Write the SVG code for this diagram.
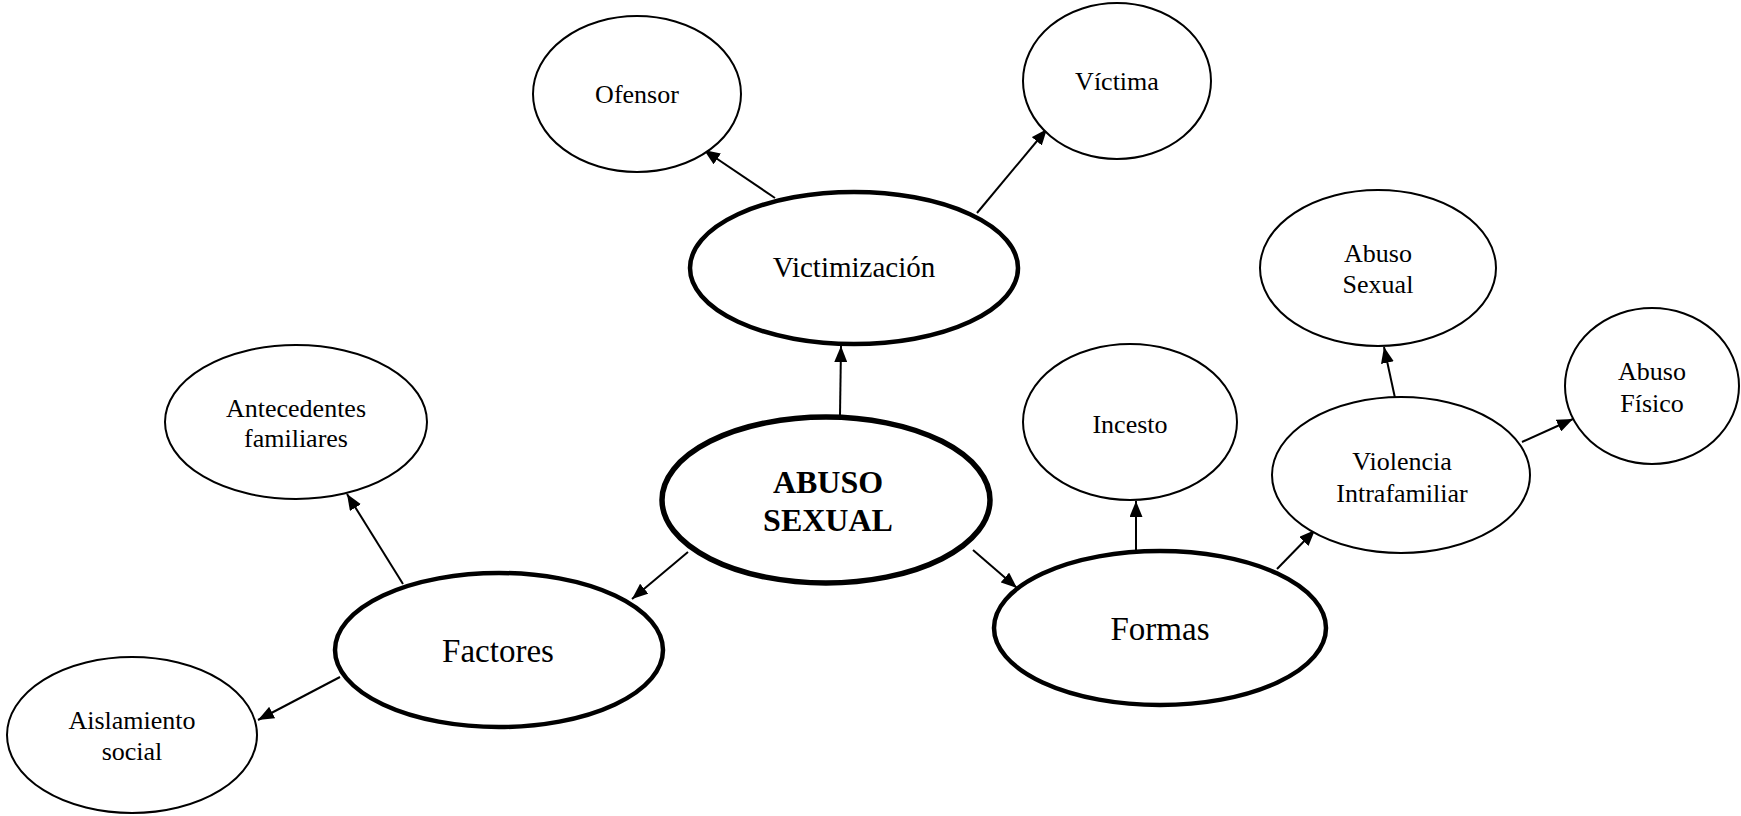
<svg xmlns="http://www.w3.org/2000/svg" width="1741" height="816" viewBox="0 0 1741 816">
<defs>
<marker id="arr" markerUnits="userSpaceOnUse" markerWidth="17" markerHeight="13" refX="16" refY="6.5" orient="auto">
<path d="M0,0 L16,6.5 L0,13 z" fill="#000"/>
</marker>
<style>
.thin{fill:#fff;stroke:#000;stroke-width:2}
.thick{fill:#fff;stroke:#000;stroke-width:4.5}
.main{fill:#fff;stroke:#000;stroke-width:5.5}
.t{font-family:"Liberation Serif","Times New Roman",serif;fill:#000;text-anchor:middle}
.s26{font-size:26px}
.s29{font-size:29px}
.s33{font-size:33px}
.b32{font-size:32px;font-weight:bold}
.c{stroke:#000;stroke-width:2;fill:none;marker-end:url(#arr)}
</style>
</defs>
<rect width="1741" height="816" fill="#fff"/>
<g id="connectors">
<line class="c" x1="840" y1="415" x2="841" y2="346"/>
<line class="c" x1="775" y1="198" x2="704" y2="150"/>
<line class="c" x1="977" y1="213" x2="1047" y2="129"/>
<line class="c" x1="688" y1="552" x2="632" y2="599"/>
<line class="c" x1="403" y1="584" x2="347" y2="494"/>
<line class="c" x1="340" y1="677" x2="258" y2="720"/>
<line class="c" x1="973" y1="550" x2="1017" y2="588"/>
<line class="c" x1="1136" y1="550" x2="1136" y2="501"/>
<line class="c" x1="1277" y1="569" x2="1315" y2="530"/>
<line class="c" x1="1395" y1="398" x2="1384" y2="347"/>
<line class="c" x1="1522" y1="442" x2="1573" y2="419"/>
</g>
<g id="abuso-sexual">
<ellipse class="main" cx="826" cy="500" rx="164" ry="83"/>
<text class="t b32" x="828" y="493">ABUSO</text>
<text class="t b32" x="828" y="531">SEXUAL</text>
</g>
<g id="victimizacion">
<ellipse class="thick" cx="854" cy="268" rx="164" ry="76"/>
<text class="t s29" x="854" y="277">Victimización</text>
</g>
<g id="ofensor">
<ellipse class="thin" cx="637" cy="94" rx="104" ry="78"/>
<text class="t s26" x="637" y="103">Ofensor</text>
</g>
<g id="victima">
<ellipse class="thin" cx="1117" cy="81" rx="94" ry="78"/>
<text class="t s26" x="1117" y="90">Víctima</text>
</g>
<g id="factores">
<ellipse class="thick" cx="499" cy="650" rx="164" ry="77"/>
<text class="t s33" x="498" y="662">Factores</text>
</g>
<g id="antecedentes">
<ellipse class="thin" cx="296" cy="422" rx="131" ry="77"/>
<text class="t s26" x="296" y="417">Antecedentes</text>
<text class="t s26" x="296" y="447">familiares</text>
</g>
<g id="aislamiento">
<ellipse class="thin" cx="132" cy="735" rx="125" ry="78"/>
<text class="t s26" x="132" y="729">Aislamiento</text>
<text class="t s26" x="132" y="760">social</text>
</g>
<g id="formas">
<ellipse class="thick" cx="1160" cy="628" rx="166" ry="77"/>
<text class="t s33" x="1160" y="640">Formas</text>
</g>
<g id="incesto">
<ellipse class="thin" cx="1130" cy="422" rx="107" ry="78"/>
<text class="t s26" x="1130" y="433">Incesto</text>
</g>
<g id="violencia">
<ellipse class="thin" cx="1401" cy="475" rx="129" ry="78"/>
<text class="t s26" x="1402" y="470">Violencia</text>
<text class="t s26" x="1402" y="502">Intrafamiliar</text>
</g>
<g id="abuso-sexual-forma">
<ellipse class="thin" cx="1378" cy="268" rx="118" ry="78"/>
<text class="t s26" x="1378" y="262">Abuso</text>
<text class="t s26" x="1378" y="293">Sexual</text>
</g>
<g id="abuso-fisico">
<ellipse class="thin" cx="1652" cy="386" rx="87" ry="78"/>
<text class="t s26" x="1652" y="380">Abuso</text>
<text class="t s26" x="1652" y="412">Físico</text>
</g>
</svg>
